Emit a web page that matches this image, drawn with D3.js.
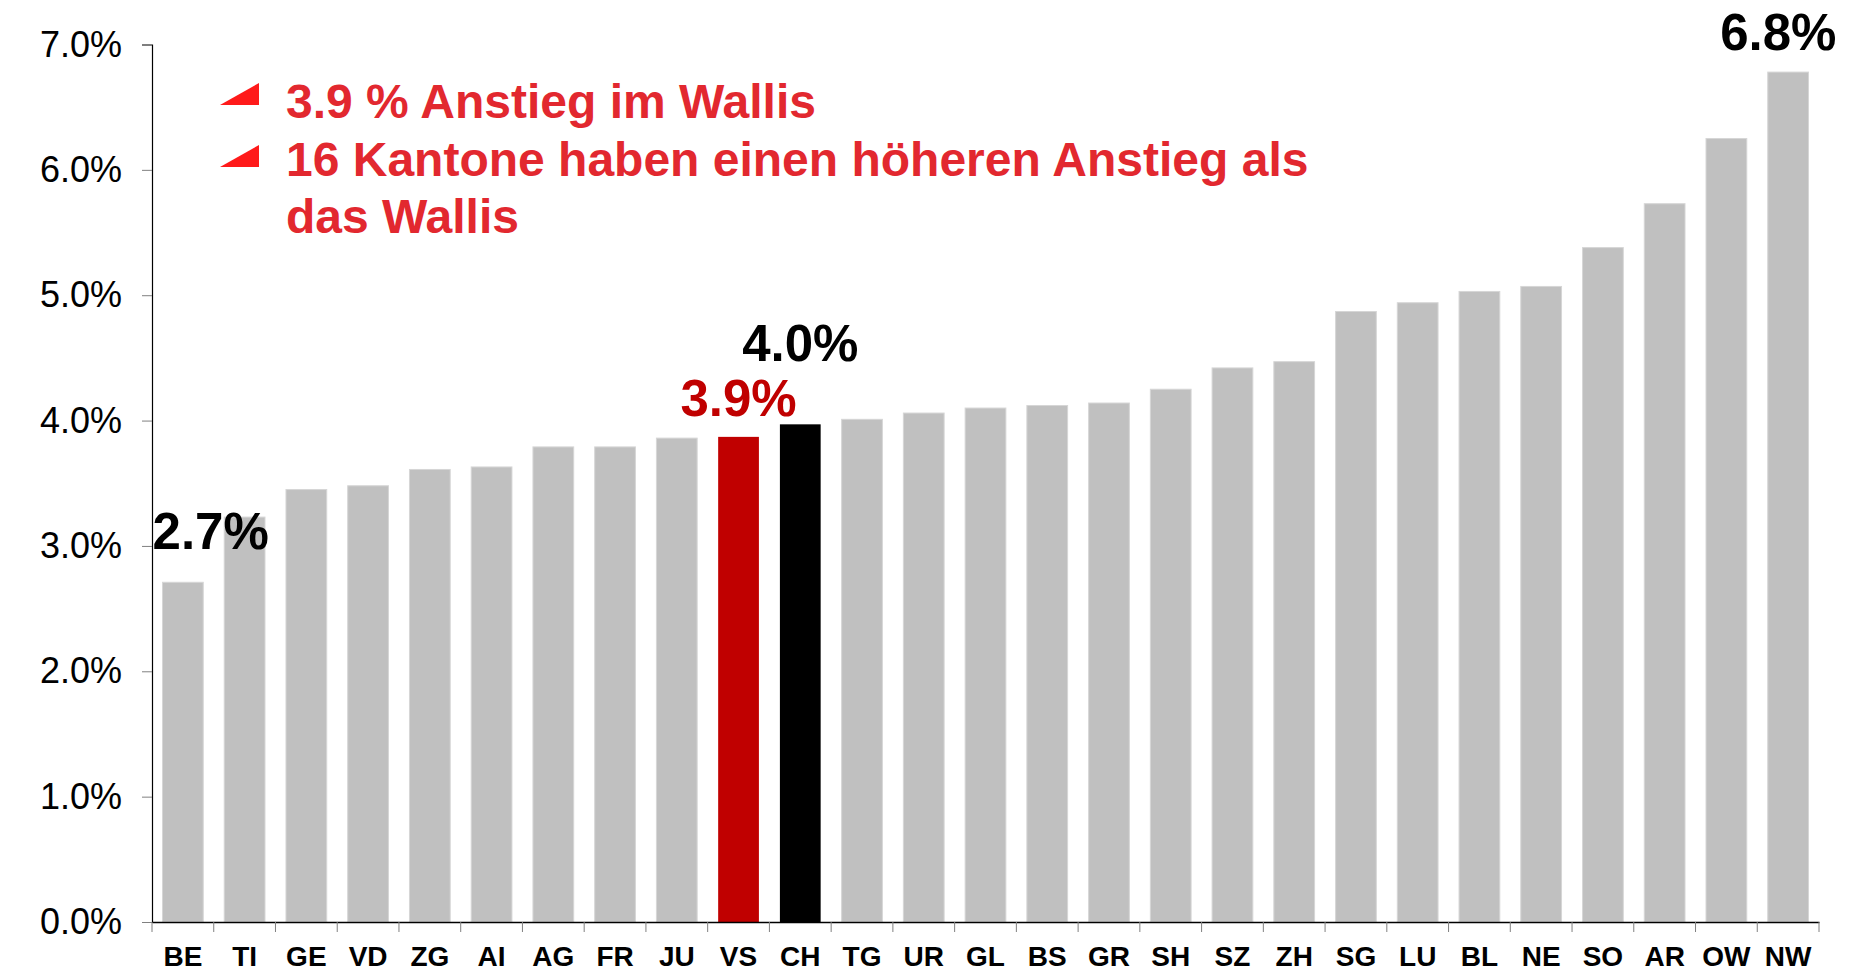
<!DOCTYPE html>
<html>
<head>
<meta charset="utf-8">
<script src="https://cdn.jsdelivr.net/npm/d3@7"></script>
<style>
  body { margin: 0; background: #fff; }
  svg { display: block; font-family: "Liberation Sans", Arial, sans-serif; }
</style>
</head>
<body>
<div id="chart"></div>
<script>
// cantons, sorted by increase
var cantons = ["BE", "TI", "GE", "VD", "ZG", "AI", "AG", "FR", "JU", "VS", "CH", "TG", "UR",
  "GL", "BS", "GR", "SH", "SZ", "ZH", "SG", "LU", "BL", "NE", "SO", "AR", "OW", "NW"];
var increase = [2.71, 3.23, 3.45, 3.48, 3.61, 3.63, 3.79, 3.79, 3.86, 3.87, 3.97, 4.01, 4.06,
  4.10, 4.12, 4.14, 4.25, 4.42, 4.47, 4.87, 4.94, 5.03, 5.07, 5.38, 5.73, 6.25, 6.78];
var yTicks = [0, 1, 2, 3, 4, 5, 6, 7];
// value labels shown above some bars
var labelled = [
  { canton: "BE", text: "2.7%", color: "#000" },
  { canton: "VS", text: "3.9%", color: "#c00000" },
  { canton: "CH", text: "4.0%", color: "#000" },
  { canton: "NW", text: "6.8%", color: "#000" }
];
var notes = ["3.9 % Anstieg im Wallis", "16 Kantone haben einen höheren Anstieg als", "das Wallis"];

var width = 1854, height = 971;
var margin = { top: 44.5, right: 35, bottom: 49, left: 152 };

var data = cantons.map(function(c, i) {
  return { canton: c, value: increase[i] };
});

var svg = d3.select("#chart")
  .append("svg")
  .attr("width", width)
  .attr("height", height);

// set the ranges
var x = d3.scaleBand()
  .domain(cantons)
  .range([margin.left, width - margin.right])
  .padding(0);
var y = d3.scaleLinear()
  .domain([0, 7])
  .range([height - margin.bottom, margin.top]);

var barFrac = 0.66;
var bw = x.bandwidth() * barFrac;

function barColor(d) {
  if (d.canton === "VS") return "#c00000";
  if (d.canton === "CH") return "#000";
  return "#c0c0c0";
}

// bars
svg.selectAll(".bar")
  .data(data)
  .enter()
  .append("rect")
  .attr("class", "bar")
  .attr("x", function(d) { return x(d.canton) + (x.bandwidth() - bw) / 2; })
  .attr("width", bw)
  .attr("y", function(d) { return y(d.value); })
  .attr("height", function(d) { return y(0) - y(d.value); })
  .attr("fill", barColor)
  .attr("stroke", function(d) { return d.canton === "VS" || d.canton === "CH" ? "none" : "#d6d6d6"; })
  .attr("stroke-width", 1);

// y axis
var yAxis = svg.append("g")
  .attr("transform", "translate(" + margin.left + ",0)")
  .call(d3.axisLeft(y).tickValues(yTicks).tickSize(10).tickPadding(20)
    .tickFormat(function(d) { return d.toFixed(1) + "%"; }));
yAxis.select(".domain").attr("stroke", "#000").attr("stroke-width", 1.2);
yAxis.selectAll(".tick line").attr("stroke", "#808080");
yAxis.selectAll(".tick text")
  .attr("fill", "#000")
  .style("font-size", "36px");

// x axis: labels centred, ticks on band boundaries
var xAxis = svg.append("g")
  .attr("transform", "translate(0," + y(0) + ")")
  .call(d3.axisBottom(x).tickSize(0).tickPadding(24));
xAxis.select(".domain").attr("stroke", "#000").attr("stroke-width", 1.6);
xAxis.selectAll(".tick text")
  .attr("fill", "#000")
  .attr("dy", "0.71em")
  .style("font-size", "28px")
  .style("font-weight", "bold");

var bounds = cantons.map(function(c) { return x(c); }).concat([x.range()[1]]);
xAxis.selectAll(".sep")
  .data(bounds)
  .enter()
  .append("line")
  .attr("class", "sep")
  .attr("x1", function(d) { return d; })
  .attr("x2", function(d) { return d; })
  .attr("y1", 0)
  .attr("y2", 10)
  .attr("stroke", "#808080");

// value labels
var shift = { BE: 0.45, VS: 0, CH: 0, NW: -0.16 };
var lift = { BE: 33, VS: 21, CH: 63, NW: 22 };
svg.selectAll(".vlabel")
  .data(labelled)
  .enter()
  .append("text")
  .attr("class", "vlabel")
  .attr("x", function(d) { return x(d.canton) + x.bandwidth() / 2 + shift[d.canton] * x.bandwidth(); })
  .attr("y", function(d) { return y(increase[cantons.indexOf(d.canton)]) - lift[d.canton]; })
  .attr("text-anchor", "middle")
  .attr("fill", function(d) { return d.color; })
  .style("font-size", "51px")
  .style("font-weight", "bold")
  .text(function(d) { return d.text; });

// red notes with triangle bullets
var note = svg.append("g").attr("class", "notes");
note.selectAll("text")
  .data(notes)
  .enter()
  .append("text")
  .attr("x", 286)
  .attr("y", function(d, i) { return 118 + i * 57.5; })
  .attr("fill", "#e2282f")
  .style("font-size", "48px")
  .style("font-weight", "bold")
  .text(function(d) { return d; });

note.selectAll("path")
  .data([0, 1])
  .enter()
  .append("path")
  .attr("d", function(d) {
    var b = 105 + d * 62;
    return "M220," + b + "L259," + b + "L259," + (b - 22) + "Z";
  })
  .attr("fill", "#ff1a1a");
</script>
</body>
</html>
